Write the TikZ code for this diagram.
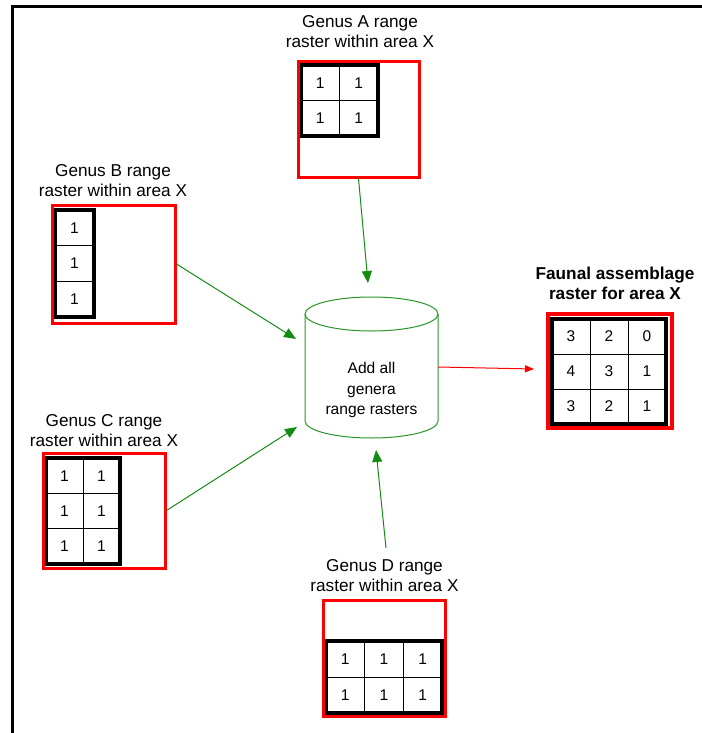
\documentclass[tikz,border=0pt]{standalone}
\usepackage{fontspec}
\setmainfont{Liberation Sans}
\usetikzlibrary{arrows.meta}
\definecolor{arrgreen}{RGB}{20,140,20}
\definecolor{cylgreen}{RGB}{40,150,40}
\tikzset{
  redbox/.style={draw=red, line width=3pt, inner sep=0pt},
  cell/.style={draw=black, line width=0.9pt, inner sep=0pt, font=\fontsize{15.5}{18}\selectfont},
  gridout/.style={draw=black, line width=3.2pt},
  lbl/.style={align=center, inner sep=0pt, anchor=south, font=\fontsize{17.2}{20.2}\selectfont},
  garrow/.style={draw=arrgreen, line width=1pt, -{Triangle[length=12pt,width=10pt]}},
  rarrow/.style={draw=red, line width=1pt, -{Triangle[length=9pt,width=7pt]}},
}
\begin{document}
\begin{tikzpicture}[x=1pt,y=-1pt]
\useasboundingbox (0,0) rectangle (701,733);
% outer frame
\draw[line width=3pt] (12,745) -- (12,7) -- (715,7);

% ---------- Genus A ----------
\node[lbl] (labA) at (360,48) {Genus A range\\raster within area X};
\foreach \i/\x in {1/320.25,2/358.75}
  \foreach \j/\y in {1/82.75,2/118.25}
    \node[cell, minimum width=38.5pt, minimum height=35.5pt] (a\j\i) at (\x,\y) {1};
\draw[gridout] (301,65) rectangle (378,136);
\node[redbox, minimum width=121pt, minimum height=115pt] (boxA) at (358.5,119.5) {};

% ---------- Genus B ----------
\node[lbl] (labB) at (113,197) {Genus B range\\raster within area X};
\foreach \j/\y in {1/227.8,2/263.5,3/299.2}
  \node[cell, minimum width=39pt, minimum height=35.7pt] (b\j) at (74.5,\y) {1};
\draw[gridout] (55,210) rectangle (94,317);
\node[redbox, minimum width=123pt, minimum height=118pt] (boxB) at (113.5,264) {};

% ---------- Genus C ----------
\node[lbl] (labC) at (104,447) {Genus C range\\raster within area X};
\foreach \i/\x in {1/64.5,2/101.5}
  \foreach \j/\y in {1/475.7,2/511,3/546.3}
    \node[cell, minimum width=37pt, minimum height=35.3pt] (c\j\i) at (\x,\y) {1};
\draw[gridout] (46,458) rectangle (120,564);
\node[redbox, minimum width=122pt, minimum height=115pt] (boxC) at (104,510.5) {};

% ---------- Genus D ----------
\node[lbl] (labD) at (384.5,592) {Genus D range\\raster within area X};
\foreach \i/\x in {1/345.3,2/384,3/422.7}
  \foreach \j/\y in {1/659,2/695}
    \node[cell, minimum width=38.7pt, minimum height=36pt] (d\j\i) at (\x,\y) {1};
\draw[gridout] (326,641) rectangle (442,713);
\node[redbox, minimum width=122pt, minimum height=116pt] (boxD) at (384,658) {};

% ---------- Faunal assemblage ----------
\node[lbl, font=\fontsize{17.2}{20.2}\selectfont\bfseries] (labF) at (615,300) {Faunal assemblage\\raster for area X};
\foreach \i/\x in {1/571,2/609,3/647}
  \foreach \j/\y in {1/336.5,2/371.5,3/406.5}
    \node[cell, minimum width=38pt, minimum height=35pt] (f\j\i) at (\x,\y) {};
\node[font=\fontsize{15.5}{18}\selectfont] at (f11) {3};
\node[font=\fontsize{15.5}{18}\selectfont] at (f12) {2};
\node[font=\fontsize{15.5}{18}\selectfont] at (f13) {0};
\node[font=\fontsize{15.5}{18}\selectfont] at (f21) {4};
\node[font=\fontsize{15.5}{18}\selectfont] at (f22) {3};
\node[font=\fontsize{15.5}{18}\selectfont] at (f23) {1};
\node[font=\fontsize{15.5}{18}\selectfont] at (f31) {3};
\node[font=\fontsize{15.5}{18}\selectfont] at (f32) {2};
\node[font=\fontsize{15.5}{18}\selectfont] at (f33) {1};
\draw[gridout] (552,319) rectangle (666,424);
\node[draw=red, line width=4pt, inner sep=0pt, minimum width=124pt, minimum height=114pt] (boxF) at (610,371) {};

% ---------- Cylinder ----------
\draw[draw=cylgreen, line width=1pt, fill=white]
  (305,314) -- (305,421) arc[start angle=180, end angle=360, x radius=66.5pt, y radius=17pt] -- (438,314);
\draw[draw=cylgreen, line width=1pt] (371.5,314) ellipse [x radius=66.5pt, y radius=17pt];
\node[inner sep=0pt, minimum width=133pt, minimum height=141pt] (cyl) at (371.5,367.5) {};
\node[align=center, inner sep=0pt, font=\fontsize{15.6}{20.5}\selectfont] (cyltext) at (371.5,390) {Add all\\genera\\range rasters};

% ---------- connectors ----------
\coordinate (tipA) at (368,283);
\coordinate (tipB) at (296,339);
\coordinate (tipC) at (297,427);
\coordinate (startD) at (386,548);
\coordinate (tipD) at (376,450);
\coordinate (startR) at (438,367);
\coordinate (tipR) at (534,369);
\draw[garrow] (boxA.south) -- (tipA);
\draw[garrow] (boxB.east) -- (tipB);
\draw[garrow] (boxC.east) -- (tipC);
\draw[garrow] (startD) -- (tipD);
\draw[rarrow] (startR) -- (tipR);
\end{tikzpicture}
\end{document}
